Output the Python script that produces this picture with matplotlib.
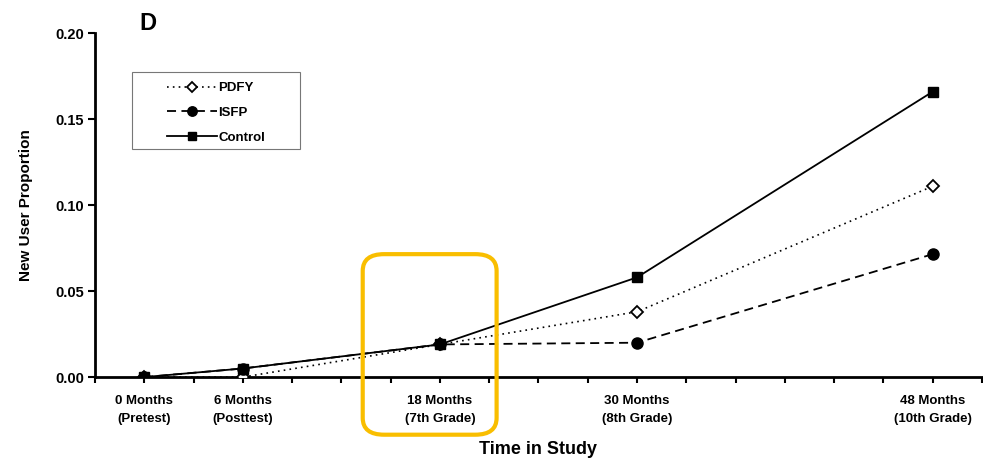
import matplotlib as mpl
mpl.use("Agg")
from matplotlib import pyplot as plt
from matplotlib.patches import FancyBboxPatch, Rectangle
import numpy as np

# data
months = [0, 6, 18, 30, 48]
tick_labels = ["0 Months\n(Pretest)", "6 Months\n(Posttest)", "18 Months\n(7th Grade)",
               "30 Months\n(8th Grade)", "48 Months\n(10th Grade)"]
pdfy = [0.000, 0.000, 0.019, 0.038, 0.111]
isfp = [0.000, 0.005, 0.019, 0.020, 0.0715]
control = [0.000, 0.005, 0.019, 0.058, 0.166]

plt.rcParams['font.family'] = ['Liberation Sans', 'DejaVu Sans']
plt.rcParams['font.weight'] = 'bold'

fig = plt.figure(figsize=(9.83, 4.61), dpi=100)
ax = fig.add_axes([0.0966, 0.182, 0.9024, 0.746])

ax.plot(months, pdfy, linestyle=(0, (1, 2.5)), color='black', lw=1.2,
        marker='D', markersize=6, markerfacecolor='white', markeredgecolor='black',
        markeredgewidth=1.3, label='PDFY', zorder=3)
ax.plot(months, isfp, linestyle=(0, (5, 3)), color='black', lw=1.3,
        marker='o', markersize=8, markerfacecolor='black', label='ISFP', zorder=3)
ax.plot(months, control, linestyle='-', color='black', lw=1.3,
        marker='s', markersize=7, markerfacecolor='black', label='Control', zorder=3)

ax.set_xlim(-3, 51)
ax.set_ylim(0, 0.20)
ax.set_yticks([0.00, 0.05, 0.10, 0.15, 0.20])
ax.set_yticklabels(["%.2f" % v for v in [0.00, 0.05, 0.10, 0.15, 0.20]], fontsize=10.5, fontweight='bold')
ax.set_xticks(months)
ax.set_xticklabels(tick_labels, fontsize=9.5, fontweight='bold', linespacing=1.6)
ax.set_xticks(np.arange(-3, 52, 3), minor=True)
ax.tick_params(axis='x', which='both', direction='out', length=4, width=1.5, pad=9)
ax.tick_params(axis='y', direction='out', length=5, width=1.5, pad=3)

for s in ['top', 'right']:
    ax.spines[s].set_visible(False)
for s in ['left', 'bottom']:
    ax.spines[s].set_linewidth(2)

ax.set_xlabel("Time in Study", fontsize=13, fontweight='bold', labelpad=12)
ax.set_ylabel("New User Proportion", fontsize=11, fontweight='bold', labelpad=16)

# legend without its own frame; the loose box is drawn separately
leg = ax.legend(loc='upper left', bbox_to_anchor=(0.081, 0.858), fontsize=9.5,
                handlelength=3.8, handletextpad=0.1, borderpad=0, labelspacing=0.95,
                borderaxespad=0, frameon=False, markerscale=0.85)
for t in leg.get_texts():
    t.set_fontweight('bold')
ax.add_patch(Rectangle((0.0417, 0.663), 0.189, 0.224, transform=ax.transAxes,
                       fill=False, edgecolor='#777777', linewidth=0.8, zorder=4))

fig.text(0.151, 0.950, "D", fontsize=17, fontweight='bold', ha='center', va='center')

# orange highlight around the 18-month point
box = FancyBboxPatch((13.3, -0.0335), 8.15, 0.105,
                     boxstyle="round,pad=0,rounding_size=1.3",
                     mutation_aspect=0.0075, transform=ax.transData,
                     fill=False, edgecolor='#F9BE00', linewidth=3, clip_on=False, zorder=5)
ax.add_patch(box)

plt.savefig("out.png", dpi=100)
